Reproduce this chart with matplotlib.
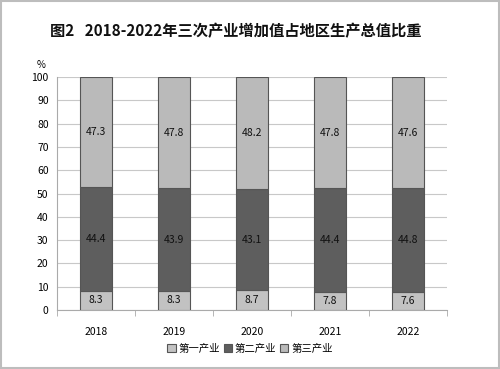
import numpy as np
import matplotlib.pyplot as plt

plt.rcParams['font.family'] = ['Noto Sans CJK SC', 'DejaVu Sans']

years = ['2018', '2019', '2020', '2021', '2022']
primary = [8.3, 8.3, 8.7, 7.8, 7.6]
secondary = [44.4, 43.9, 43.1, 44.4, 44.8]
tertiary = [47.3, 47.8, 48.2, 47.8, 47.6]
labels = ['第一产业', '第二产业', '第三产业']
colors = ['#c2c2c2', '#5e5e5e', '#bababa']

fig = plt.figure(figsize=(5, 3.69), dpi=100)
# grey frame round the picture
fig.patches.append(plt.Rectangle((0.002, 0.003), 0.996, 0.994, transform=fig.transFigure,
                                 fill=False, edgecolor='#bdbdbd', linewidth=1.5))
ax = fig.add_axes([0.114, 0.160, 0.78, 0.631])

x = np.arange(len(years))
bottom = np.zeros(len(years))
for vals, c, lab in zip([primary, secondary, tertiary], colors, labels):
    bars = ax.bar(x, vals, 0.4, bottom=bottom, color=c, edgecolor='#555555',
                  linewidth=0.8, label=lab, zorder=3)
    for b, v in zip(bars, vals):
        ax.text(b.get_x() + b.get_width() / 2, b.get_y() + v / 2, f'{v:.1f}',
                ha='center', va='center', fontsize=7.5, color='#111111', zorder=4)
    bottom += np.array(vals)

ax.set_xlim(-0.5, len(years) - 0.5)
ax.set_ylim(0, 100)
ax.set_yticks(range(0, 101, 10))
ax.set_xticks(x)
ax.set_xticklabels(years)
ax.set_xticks(np.arange(-0.5, len(years), 1), minor=True)
ax.tick_params(axis='x', which='major', length=0, labelsize=7.5, pad=12)
ax.tick_params(axis='x', which='minor', length=4, color='#aaaaaa', direction='out')
ax.tick_params(axis='y', length=0, labelsize=7.5, pad=6)
ax.yaxis.grid(True, color='#c8c8c8', linewidth=0.8, zorder=0)
for s in ['top', 'right']:
    ax.spines[s].set_visible(False)
ax.spines['left'].set_color('#aaaaaa')
ax.spines['bottom'].set_color('#aaaaaa')
ax.text(-0.04, 1.03, '%', transform=ax.transAxes, fontsize=7, ha='center', va='bottom')

fig.text(0.472, 0.915, '图2   2018-2022年三次产业增加值占地区生产总值比重', ha='center', va='center',
         fontsize=11, fontweight='bold', color='#111111')

fig.legend(loc='center', bbox_to_anchor=(0.5, 0.055), ncol=3, frameon=False, fontsize=7.5,
           handlelength=0.8, handleheight=0.8, handletextpad=0.3, columnspacing=0.3)

fig.savefig('out.png', dpi=100)
